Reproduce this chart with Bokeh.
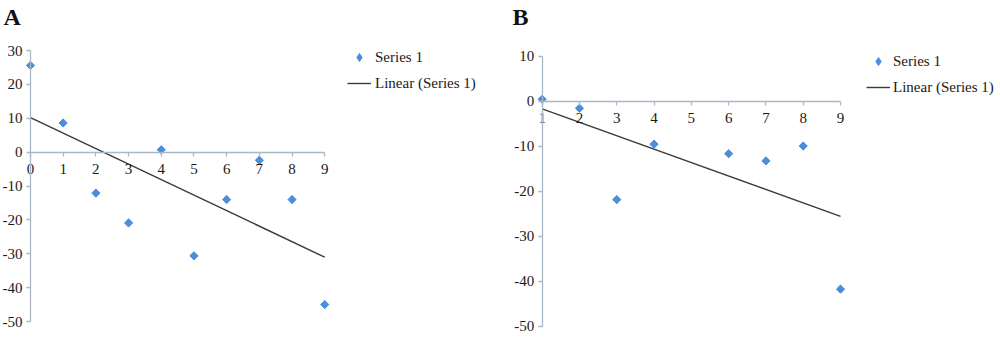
import numpy as np
from bokeh.plotting import figure
from bokeh.layouts import row
from bokeh.models import (LinearAxis, FixedTicker, Range1d, Legend, LegendItem, Label,
                          NumeralTickFormatter)
from bokeh.embed import file_html
from bokeh.resources import INLINE

# ---- data ----
x_a = [0, 1, 2, 3, 4, 5, 6, 7, 8, 9]
y_a = [25.6, 8.6, -12.1, -20.9, 0.7, -30.6, -14.0, -2.4, -14.0, -45.0]
x_b = [1, 2, 3, 4, 6, 7, 8, 9]
y_b = [0.5, -1.5, -21.8, -9.5, -11.6, -13.2, -9.9, -41.7]
xticks_a = [0, 1, 2, 3, 4, 5, 6, 7, 8, 9]
yticks_a = [-50, -40, -30, -20, -10, 0, 10, 20, 30]
xticks_b = [1, 2, 3, 4, 5, 6, 7, 8, 9]
yticks_b = [-50, -40, -30, -20, -10, 0, 10]
series_label = "Series 1"
trend_label = "Linear (Series 1)"

FONT = "Liberation Serif"
AXIS_COLOR = "#a9b7c6"
MARK_COLOR = "#4a8fdc"
LINE_COLOR = "#3a3a3a"


def panel(xs, ys, xticks, yticks, xr, yr, width, title, title_x, legend_loc, standoff):
    p = figure(width=width, height=343, x_range=Range1d(*xr), y_range=Range1d(*yr),
               x_axis_type=None, y_axis_type=None, output_backend="svg",
               toolbar_location=None, min_border=0, outline_line_color=None)
    p.background_fill_color = "white"
    p.border_fill_color = "white"

    def style(ax):
        ax.axis_line_color = AXIS_COLOR
        ax.axis_line_width = 1.3
        ax.major_tick_line_color = AXIS_COLOR
        ax.major_tick_line_width = 1.3
        ax.major_tick_out = 4
        ax.major_tick_in = 0
        ax.minor_tick_line_color = None
        ax.major_label_text_font = FONT
        ax.major_label_text_font_size = "15px"
        ax.major_label_text_color = "#1a1a1a"
        ax.formatter = NumeralTickFormatter(format="0")

    xax = LinearAxis(ticker=FixedTicker(ticks=xticks), fixed_location=0,
                     bounds=(xticks[0], xticks[-1]), major_label_standoff=8)
    style(xax)
    p.add_layout(xax, "below")
    yax = LinearAxis(ticker=FixedTicker(ticks=yticks), fixed_location=xticks[0],
                     bounds=(yticks[0], yticks[-1]), major_label_standoff=4)
    style(yax)
    p.add_layout(yax, "left")

    # diamond renderer (used for the legend symbol), hidden under the rotated squares
    sc_leg = p.scatter(xs, ys, marker="diamond", size=7.5,
                       fill_color=MARK_COLOR, line_color=MARK_COLOR)
    p.scatter(xs, ys, marker="square", angle=np.pi / 4, size=5.8,
              fill_color=MARK_COLOR, line_color=MARK_COLOR)
    slope, intercept = np.polyfit(xs, ys, 1)
    lx = [min(xs), max(xs)]
    ly = [slope * v + intercept for v in lx]
    ln = p.line(lx, ly, line_color=LINE_COLOR, line_width=1.4)

    legend = Legend(items=[LegendItem(label=series_label, renderers=[sc_leg]),
                           LegendItem(label=trend_label, renderers=[ln])],
                    location=legend_loc, padding=0, margin=0, spacing=6,
                    glyph_width=24, glyph_height=20, label_standoff=standoff,
                    label_text_font=FONT, label_text_font_size="15px",
                    label_text_color="#1a1a1a",
                    border_line_alpha=0, background_fill_alpha=0)
    p.add_layout(legend)

    p.add_layout(Label(x=title_x, y=327, x_units="screen", y_units="screen", text=title,
                       text_font=FONT, text_font_style="bold", text_font_size="24px",
                       text_baseline="alphabetic", text_color="#111111"))
    return p


pa = panel(x_a, y_a, xticks_a, yticks_a, (-0.917, 14.07), (-56.49, 44.76), 490,
           "A", 3, (347, 250), 4)
pb = panel(x_b, y_b, xticks_b, yticks_b, (-0.386, 13.29), (-53.78, 22.44), 510,
           "B", 22, (376, 246), 3)

layout = row(pa, pb)
open("out.html", "w").write(file_html(layout, INLINE))
